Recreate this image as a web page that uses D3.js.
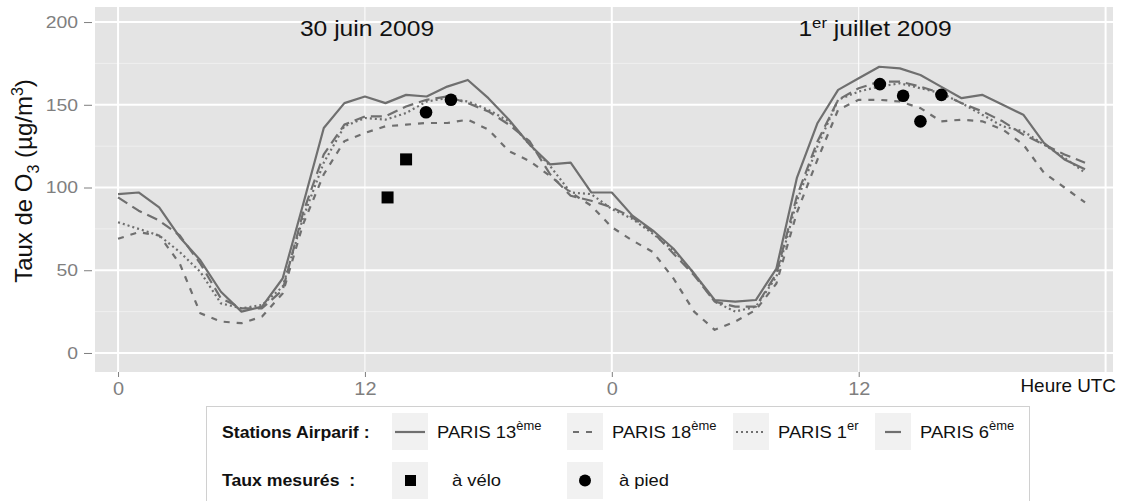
<!DOCTYPE html>
<html><head><meta charset="utf-8">
<script src="https://cdn.jsdelivr.net/npm/d3@7"></script>
<style>body{margin:0;background:#fff}svg{display:block;font-family:"Liberation Sans",Arial,sans-serif}</style>
</head><body><svg id="c" width="1121" height="501"></svg>
<script>
const hours = d3.range(0, 48);
const paris13 = [96,97,88,70,56,37,25,28,45,90,136,151,155,151,156,155,161,165,154,141,126,114,115,97,
                 97,83,74,63,48,32,31,32,51,106,139,159,166,173,172,168,161,154,156,150,144,127,117,111];
const paris18 = [69,73,71,54,24,19,18,22,36,78,108,128,133,137,138,139,139,141,135,122,116,107,97,89,
                 76,68,61,45,25,14,19,26,42,85,117,147,153,153,152,148,140,141,140,135,126,109,100,91];
const paris1  = [79,75,71,61,49,30,27,29,40,82,115,137,142,141,145,152,154,152,147,140,126,113,97,96,
                 87,81,72,62,48,31,25,28,46,92,125,153,158,161,163,160,157,151,144,137,134,126,118,109];
const paris6  = [94,86,80,71,54,33,27,27,38,85,120,138,143,143,149,153,155,151,146,138,128,108,95,92,
                 88,82,73,60,47,31,28,28,48,95,128,153,160,164,164,161,157,151,146,140,132,126,120,115];
const veloHours = [13.1, 14.0];
const veloValues = [94, 117];
const piedHours = [14.97, 16.18, 37.03, 38.16, 39.0, 40.02];
const piedValues = [145.5, 153, 162.5, 155.5, 140, 156];
const yTicks = [0, 50, 100, 150, 200];
const xTicks = [0, 12, 24, 36];
const xTickLabels = ["0", "12", "0", "12"];
const seriesNames = ["PARIS 13", "PARIS 18", "PARIS 1", "PARIS 6"];
const seriesSup = ["ème", "ème", "er", "ème"];

const svg = d3.select("#c");
const L = 95, R = 1113, T = 7, B = 372;
const x = d3.scaleLinear().domain([-1.12, 48.36]).range([L, R]);
const y = d3.scaleLinear().domain([-11.5, 209.1]).range([B, T]);
const lineCol = "#6f6f6f";

function stretch(sel, s) {
  sel.each(function () {
    const t = d3.select(this);
    const tx = +t.attr("x") || 0, ty = +t.attr("y") || 0;
    t.attr("x", 0).attr("y", 0).attr("transform", `translate(${tx},${ty}) scale(${s},1)`);
  });
  return sel;
}

// panel
svg.append("rect").attr("x", L).attr("y", T).attr("width", R - L).attr("height", B - T).attr("fill", "#e4e4e4");
[25, 75, 125, 175].forEach(v => svg.append("line").attr("x1", L).attr("x2", R).attr("y1", y(v)).attr("y2", y(v))
  .attr("stroke", "#efefef").attr("stroke-width", 1));
yTicks.forEach(v => svg.append("line").attr("x1", L).attr("x2", R).attr("y1", y(v)).attr("y2", y(v))
  .attr("stroke", "#fff").attr("stroke-width", 2));
[0, 12, 24, 36, 48].forEach(h => svg.append("line").attr("x1", x(h)).attr("x2", x(h)).attr("y1", T).attr("y2", B)
  .attr("stroke", "#fff").attr("stroke-width", h === 12 || h === 36 ? 1 : 2));

// axes
const yAxis = d3.axisLeft(y).tickValues(yTicks).tickSize(8).tickPadding(6);
const gy = svg.append("g").attr("transform", `translate(${L - 3},0)`).call(yAxis);
gy.select(".domain").remove();
gy.selectAll("line").attr("stroke", "#7f7f7f");
gy.selectAll("text").attr("fill", "#7f7f7f").style("font-size", "17px").style("font-family", "Liberation Sans, Arial, sans-serif");
stretch(gy.selectAll("text"), 1.14);

const xAxis = d3.axisBottom(x).tickValues(xTicks).tickFormat((d, i) => xTickLabels[i]).tickSize(5).tickPadding(6);
const gx = svg.append("g").attr("transform", `translate(0,${B})`).call(xAxis);
gx.select(".domain").remove();
gx.selectAll("line").attr("stroke", "#7f7f7f");
gx.selectAll("text").attr("fill", "#7f7f7f").style("font-size", "17.5px").style("font-family", "Liberation Sans, Arial, sans-serif");
stretch(gx.selectAll("text"), 1.14);

// lines
const dashes = [null, "6,7", "2,3", "11,6"];
const allSeries = [paris13, paris18, paris1, paris6];
const line = d3.line().x((d, i) => x(hours[i])).y(d => y(d));
allSeries.forEach((s, k) => {
  svg.append("path").datum(s).attr("d", line).attr("fill", "none").attr("stroke", lineCol)
    .attr("stroke-width", 2.2).attr("stroke-dasharray", dashes[k]).attr("stroke-linejoin", "round");
});

// points
veloHours.forEach((h, i) => svg.append("rect").attr("x", x(h) - 6).attr("y", y(veloValues[i]) - 6)
  .attr("width", 12).attr("height", 12).attr("fill", "#000"));
piedHours.forEach((h, i) => svg.append("circle").attr("cx", x(h)).attr("cy", y(piedValues[i])).attr("r", 6.3).attr("fill", "#000"));

// day labels
stretch(svg.append("text").attr("x", 367).attr("y", 36).attr("text-anchor", "middle").attr("font-size", 22).attr("fill", "#111").text("30 juin 2009"), 1.12);
const t2 = svg.append("text").attr("x", 875).attr("y", 36).attr("text-anchor", "middle").attr("font-size", 22).attr("fill", "#111");
t2.append("tspan").text("1");
t2.append("tspan").attr("dy", -8).attr("font-size", 15).text("er");
t2.append("tspan").attr("dy", 8).text(" juillet 2009");
stretch(t2, 1.12);

// y title
const yt = svg.append("text").attr("transform", "translate(32,181) rotate(-90)").attr("text-anchor", "middle")
  .attr("font-size", 24).attr("fill", "#111");
yt.append("tspan").text("Taux de O");
yt.append("tspan").attr("dy", 7).attr("font-size", 16).text("3");
yt.append("tspan").attr("dy", -7).text(" (µg/m");
yt.append("tspan").attr("dy", -9).attr("font-size", 16).text("3");
yt.append("tspan").attr("dy", 9).text(")");

// x title
stretch(svg.append("text").attr("x", 1116).attr("y", 392).attr("text-anchor", "end").attr("font-size", 17.5).attr("fill", "#111").text("Heure UTC"), 1.08);

// legend
const lg = svg.append("g");
lg.append("rect").attr("x", 206.5).attr("y", 406.5).attr("width", 823).attr("height", 100)
  .attr("fill", "#fff").attr("stroke", "#d0d0d0").attr("stroke-width", 1);
stretch(lg.append("text").attr("x", 222).attr("y", 438).attr("font-size", 17).attr("font-weight", "bold").attr("fill", "#111").text("Stations Airparif :"), 1.04);
stretch(lg.append("text").attr("x", 222).attr("y", 486).attr("font-size", 17).attr("font-weight", "bold").attr("fill", "#111").text("Taux mesurés \u00a0:"), 1.04);
const keyX = [392, 567, 733, 875];
const textX = [437, 612, 778, 920];
seriesNames.forEach((n, k) => {
  lg.append("rect").attr("x", keyX[k]).attr("y", 413).attr("width", 36).attr("height", 37).attr("fill", "#f1f1f1");
  let kd = dashes[k];
  let x1 = keyX[k] + 3, x2 = keyX[k] + 33;
  if (k === 3) { x1 = keyX[k] + 10; x2 = keyX[k] + 26; kd = null; }
  if (k === 1) { kd = "6,7"; x1 = keyX[k] + 6; x2 = keyX[k] + 31; }
  lg.append("line").attr("x1", x1).attr("x2", x2).attr("y1", 432).attr("y2", 432)
    .attr("stroke", lineCol).attr("stroke-width", 2.2).attr("stroke-dasharray", kd);
  const tt = lg.append("text").attr("x", textX[k]).attr("y", 438).attr("font-size", 17).attr("fill", "#111");
  tt.append("tspan").text(n);
  tt.append("tspan").attr("dy", -8).attr("font-size", 12).text(seriesSup[k]);
  stretch(tt, 1.08);
});
lg.append("rect").attr("x", 392).attr("y", 462).attr("width", 36).attr("height", 37).attr("fill", "#f1f1f1");
lg.append("rect").attr("x", 405).attr("y", 475).attr("width", 11).attr("height", 11).attr("fill", "#000");
stretch(lg.append("text").attr("x", 452).attr("y", 486).attr("font-size", 17).attr("fill", "#111").text("à vélo"), 1.08);
lg.append("rect").attr("x", 567).attr("y", 462).attr("width", 36).attr("height", 37).attr("fill", "#f1f1f1");
lg.append("circle").attr("cx", 585).attr("cy", 480.5).attr("r", 6).attr("fill", "#000");
stretch(lg.append("text").attr("x", 619).attr("y", 486).attr("font-size", 17).attr("fill", "#111").text("à pied"), 1.08);
</script></body></html>
